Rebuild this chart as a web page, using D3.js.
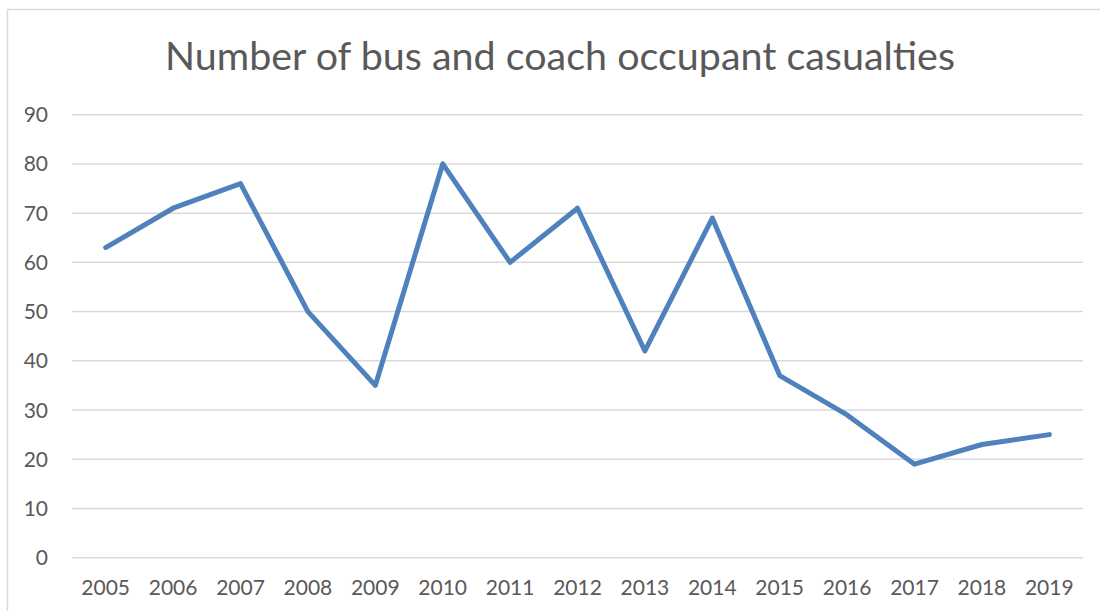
<!DOCTYPE html>
<html>
<head>
    <script src="https://d3js.org/d3.v7.min.js"></script>
    <style>
        body { margin: 0; background: #fff; }
        svg text { font-family: Lato, "Open Sans", sans-serif; fill: #595959; }
    </style>
</head>
<body>
    <div id="chart"></div>
    <script>
        // Data
        const years = ["2005", "2006", "2007", "2008", "2009", "2010", "2011", "2012",
                       "2013", "2014", "2015", "2016", "2017", "2018", "2019"];
        const casualties = [63, 71, 76, 50, 35, 80, 60, 71, 42, 69, 37, 29, 19, 23, 25];
        const yTicks = [0, 10, 20, 30, 40, 50, 60, 70, 80, 90];
        const title = "Number of bus and coach occupant casualties";

        const width = 1100;
        const height = 611;
        const margin = { top: 114.7, right: 17, bottom: 53.3, left: 72 };

        const svg = d3.select("#chart")
            .append("svg")
            .attr("width", width)
            .attr("height", height);

        // chart frame (only left and top edges show in the crop)
        svg.append("rect")
            .attr("x", 7.5)
            .attr("y", 9.5)
            .attr("width", width + 20)
            .attr("height", height + 20)
            .attr("fill", "none")
            .attr("stroke", "#d9d9d9")
            .attr("stroke-width", 1.5);

        const x = d3.scaleBand()
            .domain(years)
            .range([margin.left, width - margin.right]);

        const y = d3.scaleLinear()
            .domain([0, 90])
            .range([height - margin.bottom, margin.top]);

        // gridlines
        svg.append("g")
            .selectAll("line")
            .data(yTicks)
            .join("line")
            .attr("x1", margin.left)
            .attr("x2", width - margin.right)
            .attr("y1", d => y(d))
            .attr("y2", d => y(d))
            .attr("stroke", "#d9d9d9")
            .attr("stroke-width", 1.5);

        // y labels
        svg.append("g")
            .selectAll("text")
            .data(yTicks)
            .join("text")
            .attr("x", 48)
            .attr("y", d => y(d))
            .attr("dy", "0.36em")
            .attr("text-anchor", "end")
            .style("font-size", "21px")
            .text(d => d);

        // x labels
        svg.append("g")
            .selectAll("text")
            .data(years)
            .join("text")
            .attr("x", d => x(d) + x.bandwidth() / 2)
            .attr("y", 595)
            .attr("text-anchor", "middle")
            .style("font-size", "21px")
            .text(d => d);

        // the series
        const line = d3.line()
            .x((d, i) => x(years[i]) + x.bandwidth() / 2)
            .y(d => y(d));

        svg.append("path")
            .datum(casualties)
            .attr("d", line)
            .attr("fill", "none")
            .attr("stroke", "#4f81bd")
            .attr("stroke-width", 5)
            .attr("stroke-linejoin", "round")
            .attr("stroke-linecap", "round");

        // title
        svg.append("text")
            .attr("x", 560)
            .attr("y", 70)
            .attr("text-anchor", "middle")
            .attr("textLength", 790)
            .attr("lengthAdjust", "spacingAndGlyphs")
            .style("font-size", "39px")
            .text(title);
    </script>
</body>
</html>
